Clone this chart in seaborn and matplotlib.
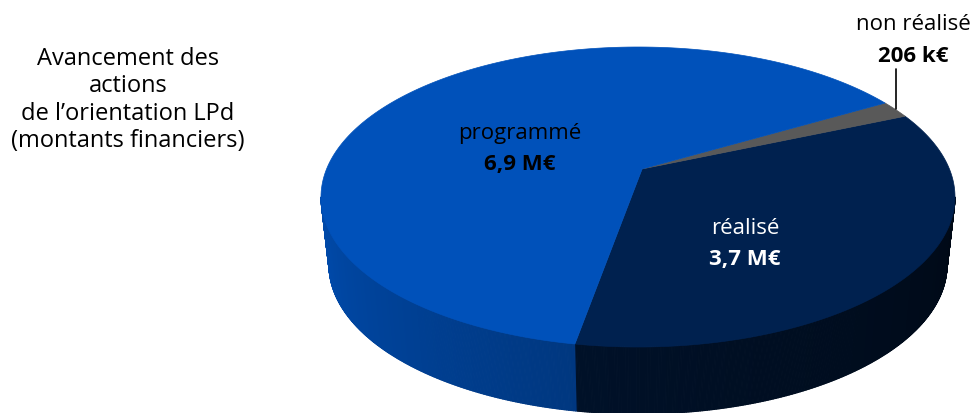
import numpy as np
import matplotlib
matplotlib.use('Agg')
import matplotlib.pyplot as plt
import matplotlib.colors as mcolors
from matplotlib.patches import Polygon
from matplotlib.collections import PolyCollection
import seaborn as sns

# === Data ===
categories = ['réalisé', 'non réalisé', 'programmé']
amounts = [3.7, 0.206, 6.9]  # M€
amount_labels = ['3,7 M€', '206 k€', '6,9 M€']
top_colors = ['#00214F', '#595959', '#0051BA']
side_colors = ['#001737', '#404040', '#004BAD']
label_colors = ['white', 'black', 'black']
title_text = "Avancement des\nactions\nde l’orientation LPd\n(montants financiers)"

sns.set_theme(style='white')
plt.rcParams['font.family'] = ['Open Sans', 'DejaVu Sans']

# === Geometry (pixel space of the picture) ===
cx, cy, rx, ry = 638, 198, 317, 150    # top ellipse
bcx, bcy, brx, bry = 638, 266, 309, 149  # bottom ellipse (perspective)
vx, vy = 0.013, 0.187                  # pie vertex, offset for perspective
start_angle = -100.3


def to_px(u, v):
    return cx + rx * np.asarray(u), cy - ry * np.asarray(v)


def to_px_bottom(u, v):
    return bcx + brx * np.asarray(u), bcy - bry * np.asarray(v)


def rim_t(theta_deg):
    # angle on the rim hit by a ray from the vertex
    th = np.radians(theta_deg)
    d = np.array([np.cos(th), np.sin(th)])
    p = np.array([vx, vy])
    pd_ = p @ d
    s = -pd_ + np.sqrt(pd_ ** 2 - p @ p + 1)
    q = p + s * d
    return np.degrees(np.arctan2(q[1], q[0]))


fracs = np.array(amounts) / sum(amounts)
bounds = start_angle + 360 * np.concatenate([[0], np.cumsum(fracs)])
t_bounds = [rim_t(b) for b in bounds]
t_ranges = []
for i in range(len(categories)):
    t0, t1 = t_bounds[i], t_bounds[i + 1]
    while t1 <= t0:
        t1 += 360
    t_ranges.append((t0, t1))


def slice_of(t):
    for i, (t0, t1) in enumerate(t_ranges):
        for k in (-360, 0, 360):
            if t0 <= t + k < t1:
                return i
    return 0


fig = plt.figure(figsize=(9.74, 4.14), dpi=100)
ax = fig.add_axes([0, 0, 1, 1])
ax.set_xlim(0, 974)
ax.set_ylim(414, 0)
ax.axis('off')

# === Side wall (front half only) ===
ts = np.linspace(180, 360, 541)
polys, cols = [], []
for a, b in zip(ts[:-1], ts[1:]):
    i = slice_of((a + b) / 2)
    ca, sa = np.cos(np.radians(a)), np.sin(np.radians(a))
    cb, sb = np.cos(np.radians(b)), np.sin(np.radians(b))
    xa, ya = to_px(ca, sa)
    xb, yb = to_px(cb, sb)
    xa2, ya2 = to_px_bottom(ca, sa)
    xb2, yb2 = to_px_bottom(cb, sb)
    polys.append([(xa, ya), (xb, yb), (xb2, yb2), (xa2, ya2)])
    shade = 1.0 - 0.6 * ((a + b) / 2 - 180) / 180
    rgb = np.array(mcolors.to_rgb(side_colors[i])) * shade
    cols.append(rgb)
ax.add_collection(PolyCollection(polys, facecolors=cols, edgecolors=cols, linewidths=0.8))

# === Top wedges ===
for i in range(len(categories)):
    t0, t1 = t_ranges[i]
    tt = np.radians(np.linspace(t0, t1, 200))
    xs, ys = to_px(np.cos(tt), np.sin(tt))
    vxp, vyp = to_px(vx, vy)
    pts = [(vxp, vyp)] + list(zip(xs, ys))
    ax.add_patch(Polygon(pts, closed=True, facecolor=top_colors[i],
                         edgecolor=top_colors[i], linewidth=0.5))

# === Labels ===
label_pos = [(745, 229), (913, 25), (520, 134)]
for i, (lx, ly) in enumerate(label_pos):
    ax.text(lx, ly, categories[i], ha='center', va='center', fontsize=16,
            color=label_colors[i])
    ax.text(lx, ly + 31, amount_labels[i], ha='center', va='center', fontsize=16,
            fontweight='bold', color=label_colors[i])
ax.plot([896, 896], [70, 110], color='black', linewidth=1.2)

ax.text(128, 100, title_text, ha='center', va='center', fontsize=17,
        linespacing=1.18, color='black')

fig.savefig('out.png', dpi=100)
